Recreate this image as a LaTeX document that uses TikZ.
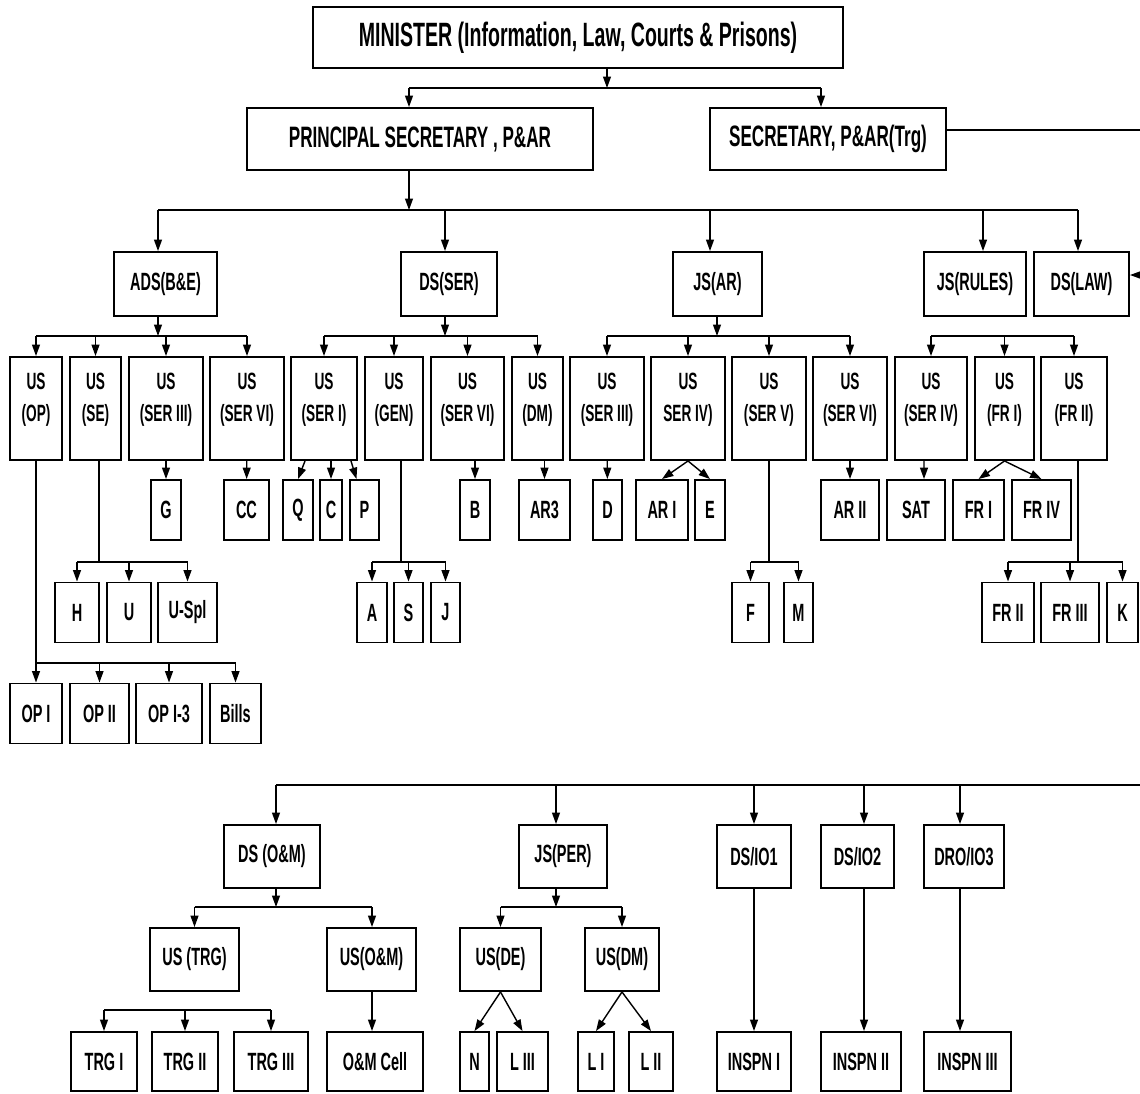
\documentclass[tikz,border=0pt]{standalone}
\usepackage{fontspec}
\setmainfont{Liberation Sans}[FakeStretch=0.58]
\usetikzlibrary{arrows.meta}
\newcommand{\us}[1]{US\\#1\\[-5pt]\mbox{}}

\begin{document}
\begin{tikzpicture}[x=0.02cm,y=-0.02cm,line width=0.8pt,>={Triangle[length=6.5pt,width=4.5pt]},
  wd/.style={minimum width=#1*0.02cm}]
\tikzstyle{box}=[draw,line width=1.1pt,inner sep=1pt,align=center,font=\bfseries\fontsize{14.2}{16}\selectfont]
\tikzstyle{headbox}=[box,minimum height=62*0.02cm,font=\bfseries\fontsize{16.8}{19}\selectfont]
\tikzstyle{unitbox}=[box,minimum height=64*0.02cm]
\tikzstyle{usbox}=[box,minimum height=103*0.02cm,font=\bfseries\fontsize{13.4}{18}\selectfont]
\tikzstyle{leaf}=[box,minimum height=60*0.02cm]
\useasboundingbox (0,0) rectangle (1140,1093);

\node [box,wd=530,minimum height=61*0.02cm,font=\bfseries\fontsize{19.2}{22}\selectfont] (min) at (578,37.5) {MINISTER (Information, Law, Courts \& Prisons)};
\node [headbox,wd=346] (ps) at (420,139) {PRINCIPAL SECRETARY , P\&AR};
\node [headbox,wd=236] (sec) at (828,139) {SECRETARY, P\&AR(Trg)};

\node [unitbox,wd=103] (ads) at (165.5,284) {ADS(B\&E)};
\node [unitbox,wd=96] (dsser) at (449,284) {DS(SER)};
\node [unitbox,wd=89] (jsar) at (717.5,284) {JS(AR)};
\node [unitbox,wd=102] (jsrules) at (975,284) {JS(RULES)};
\node [unitbox,wd=95] (dslaw) at (1081.5,284) {DS(LAW)};

\node [usbox,wd=52] (usop) at (36,408.5) {\us{(OP)}};
\node [usbox,wd=51] (usse) at (95.5,408.5) {\us{(SE)}};
\node [usbox,wd=74] (ussiii) at (166,408.5) {\us{(SER III)}};
\node [usbox,wd=74] (ussvi) at (247,408.5) {\us{(SER VI)}};
\node [usbox,wd=66] (ussi) at (324,408.5) {\us{(SER I)}};
\node [usbox,wd=58] (usgen) at (394,408.5) {\us{(GEN)}};
\node [usbox,wd=73] (ussvib) at (467.5,408.5) {\us{(SER VI)}};
\node [usbox,wd=51] (usdm) at (537.5,408.5) {\us{(DM)}};
\node [usbox,wd=74] (ussiiib) at (607,408.5) {\us{(SER III)}};
\node [usbox,wd=74] (ussiv) at (688,408.5) {\us{SER IV)}};
\node [usbox,wd=74] (ussv) at (769,408.5) {\us{(SER V)}};
\node [usbox,wd=74] (ussvic) at (850,408.5) {\us{(SER VI)}};
\node [usbox,wd=72] (ussivb) at (931,408.5) {\us{(SER IV)}};
\node [usbox,wd=59] (usfri) at (1004.5,408.5) {\us{(FR I)}};
\node [usbox,wd=66] (usfrii) at (1074,408.5) {\us{(FR II)}};

\node [leaf,wd=30] (g) at (166,510) {G};
\node [leaf,wd=45] (cc) at (246.5,510) {CC};
\node [leaf,wd=30] (q) at (298,510) {Q};
\node [leaf,wd=22] (c) at (331,510) {C};
\node [leaf,wd=29] (p) at (364.5,510) {P};
\node [leaf,wd=30] (b) at (475,510) {B};
\node [leaf,wd=51] (ar3) at (544.5,510) {AR3};
\node [leaf,wd=29] (d) at (607.5,510) {D};
\node [leaf,wd=52] (ari) at (662,510) {AR I};
\node [leaf,wd=30] (e) at (710,510) {E};
\node [leaf,wd=58] (arii) at (850,510) {AR II};
\node [leaf,wd=58] (sat) at (916,510) {SAT};
\node [leaf,wd=51] (fri) at (978.5,510) {FR I};
\node [leaf,wd=59] (friv) at (1041.5,510) {FR IV};

\node [leaf,wd=44] (h) at (77,612.5) {H};
\node [leaf,wd=44] (u) at (129,612.5) {U};
\node [leaf,wd=59] (uspl) at (187.5,612.5) {U-Spl};
\node [leaf,wd=30] (a) at (372,612.5) {A};
\node [leaf,wd=29] (s) at (408.5,612.5) {S};
\node [leaf,wd=29] (j) at (445.5,612.5) {J};
\node [leaf,wd=37] (f) at (750.5,612.5) {F};
\node [leaf,wd=29] (m) at (798.5,612.5) {M};
\node [leaf,wd=52] (frii) at (1008,612.5) {FR II};
\node [leaf,wd=58] (friii) at (1070,612.5) {FR III};
\node [leaf,wd=31] (k) at (1122.5,612.5) {K};

\node [leaf,wd=52] (opi) at (36,713.5) {OP I};
\node [leaf,wd=59] (opii) at (99.5,713.5) {OP II};
\node [leaf,wd=66] (opi3) at (169,713.5) {OP I-3};
\node [leaf,wd=51] (bills) at (235.5,713.5) {Bills};

\node [box,wd=96,minimum height=63*0.02cm] (dsom) at (272,856.5) {DS (O\&M)};
\node [box,wd=88,minimum height=63*0.02cm] (jsper) at (563,856.5) {JS(PER)};
\node [box,wd=74,minimum height=63*0.02cm] (dsio1) at (754,856.5) {DS/IO1};
\node [box,wd=73,minimum height=63*0.02cm] (dsio2) at (857.5,856.5) {DS/IO2};
\node [box,wd=80,minimum height=63*0.02cm] (droio3) at (964,856.5) {DRO/IO3};

\node [box,wd=89,minimum height=63*0.02cm] (ustrg) at (194.5,959.5) {US (TRG)};
\node [box,wd=89,minimum height=63*0.02cm] (usom) at (371.5,959.5) {US(O\&M)};
\node [box,wd=81,minimum height=63*0.02cm] (usde) at (500.5,959.5) {US(DE)};
\node [box,wd=74,minimum height=63*0.02cm] (usdmb) at (622,959.5) {US(DM)};

\node [leaf,wd=66,minimum height=59*0.02cm] (trgi) at (104,1061.5) {TRG I};
\node [leaf,wd=66,minimum height=59*0.02cm] (trgii) at (185,1061.5) {TRG II};
\node [leaf,wd=74,minimum height=59*0.02cm] (trgiii) at (271,1061.5) {TRG III};
\node [leaf,wd=96,minimum height=59*0.02cm] (omcell) at (375,1061.5) {O\&M Cell};
\node [leaf,wd=29,minimum height=59*0.02cm] (n) at (474.5,1061.5) {N};
\node [leaf,wd=51,minimum height=59*0.02cm] (liii) at (522.5,1061.5) {L III};
\node [leaf,wd=36,minimum height=59*0.02cm] (li) at (596,1061.5) {L I};
\node [leaf,wd=44,minimum height=59*0.02cm] (lii) at (651,1061.5) {L II};
\node [leaf,wd=74,minimum height=59*0.02cm] (inspni) at (754,1061.5) {INSPN I};
\node [leaf,wd=80,minimum height=59*0.02cm] (inspnii) at (861,1061.5) {INSPN II};
\node [leaf,wd=87,minimum height=59*0.02cm] (inspniii) at (967.5,1061.5) {INSPN III};

\coordinate (b0) at (607,88);
\coordinate (b1) at (409,88);
\coordinate (b2) at (821,88);
\draw[->] (b0 |- min.south) -- (b0);
\draw (b1) -- (b2);
\draw[->] (b1) -- (b1 |- ps.north);
\draw[->] (b2) -- (b2 |- sec.north);

\coordinate (m0) at (409,210);
\coordinate (m1) at (158,210);
\coordinate (m2) at (445,210);
\coordinate (m3) at (710,210);
\coordinate (m4) at (983,210);
\coordinate (m5) at (1078,210);
\draw[->] (m0 |- ps.south) -- (m0);
\draw (m1) -- (m5);
\foreach \c/\n in {m1/ads,m2/dsser,m3/jsar,m4/jsrules,m5/dslaw}
  \draw[->] (\c) -- (\c |- \n.north);

\coordinate (secout) at (1140,130);
\coordinate (lawin) at (1140,275);
\draw (sec.east |- secout) -- (secout);
\draw[->] (lawin) -- (lawin -| dslaw.east);

\coordinate (a0) at (158,336);
\coordinate (s0) at (445,336);
\coordinate (j0) at (717,336);
\coordinate (r0) at (1000,336);
\draw[->] (a0 |- ads.south) -- (a0);
\draw[->] (s0 |- dsser.south) -- (s0);
\draw[->] (j0 |- jsar.south) -- (j0);
\draw (a0 -| usop) -- (a0 -| ussvi);
\draw (s0 -| ussi) -- (s0 -| usdm);
\draw (j0 -| ussiiib) -- (j0 -| ussvic);
\draw (r0 -| ussivb) -- (r0 -| usfrii);
\foreach \n in {usop,usse,ussiii,ussvi}
  \draw[->] (a0 -| \n) -- (\n.north);
\foreach \n in {ussi,usgen,ussvib,usdm}
  \draw[->] (s0 -| \n) -- (\n.north);
\foreach \n in {ussiiib,ussiv,ussv,ussvic}
  \draw[->] (j0 -| \n) -- (\n.north);
\foreach \n in {ussivb,usfri,usfrii}
  \draw[->] (r0 -| \n) -- (\n.north);

\draw[->] (ussiii) -- (g);
\draw[->] (ussvi) -- (cc);
\draw[->] ([xshift=-0.38cm]ussi.south) -- (q.north);
\draw[->] (c |- ussi.south) -- (c.north);
\draw[->] ([xshift=0.54cm]ussi.south) -- ([xshift=-0.16cm]p.north);
\draw[->] (b |- ussvib.south) -- (b.north);
\draw[->] (ar3 |- usdm.south) -- (ar3.north);
\draw[->] (ussiiib) -- (d);
\draw[->] (ussiv.south) -- (ari.north);
\draw[->] (ussiv.south) -- (e.north);
\draw[->] (ussvic) -- (arii);
\draw[->] ([xshift=-0.14cm]ussivb.south) -- ([xshift=0.16cm]sat.north);
\draw[->] (usfri.south) -- (fri.north);
\draw[->] (usfri.south) -- (friv.north);

\coordinate (e0) at (99,562);
\coordinate (g0) at (401,562);
\coordinate (v0) at (769,562);
\coordinate (f0) at (1078,562);
\draw (usse.south -| e0) -- (e0);
\draw (usgen.south -| g0) -- (g0);
\draw (ussv.south -| v0) -- (v0);
\draw (usfrii.south -| f0) -- (f0);
\draw (e0 -| h) -- (e0 -| uspl);
\draw (g0 -| a) -- (g0 -| j);
\draw (v0 -| f) -- (v0 -| m);
\draw (f0 -| frii) -- (f0 -| k);
\foreach \n in {h,u,uspl}
  \draw[->] (e0 -| \n) -- (\n.north);
\foreach \n in {a,s,j}
  \draw[->] (g0 -| \n) -- (\n.north);
\foreach \n in {f,m}
  \draw[->] (v0 -| \n) -- (\n.north);
\foreach \n in {frii,friii,k}
  \draw[->] (f0 -| \n) -- (\n.north);

\coordinate (o0) at (36,663);
\draw (usop.south) -- (o0);
\draw (o0) -- (o0 -| bills);
\foreach \n in {opi,opii,opi3,bills}
  \draw[->] (o0 -| \n) -- (\n.north);

\coordinate (t0) at (1140,785);
\coordinate (t1) at (276,785);
\coordinate (t2) at (556,785);
\coordinate (t3) at (754,785);
\coordinate (t4) at (864,785);
\coordinate (t5) at (960,785);
\draw (t1) -- (t0);
\foreach \c/\n in {t1/dsom,t2/jsper,t3/dsio1,t4/dsio2,t5/droio3}
  \draw[->] (\c) -- (\c |- \n.north);
\draw[->] (t3 |- dsio1.south) -- (t3 |- inspni.north);
\draw[->] (t4 |- dsio2.south) -- (t4 |- inspnii.north);
\draw[->] (t5 |- droio3.south) -- (t5 |- inspniii.north);

\coordinate (o1) at (276,907);
\coordinate (p1) at (556,907);
\coordinate (om) at (372,907);
\draw[->] (o1 |- dsom.south) -- (o1);
\draw[->] (p1 |- jsper.south) -- (p1);
\draw (o1 -| ustrg) -- (om);
\draw (p1 -| usde) -- (p1 -| usdmb);
\draw[->] (o1 -| ustrg) -- (ustrg.north);
\draw[->] (om) -- (om |- usom.north);
\foreach \n in {usde,usdmb}
  \draw[->] (p1 -| \n) -- (\n.north);

\coordinate (tr) at (190,1010);
\draw (tr -| trgi) -- (tr -| trgiii);
\foreach \n in {trgi,trgii,trgiii}
  \draw[->] (tr -| \n) -- (\n.north);
\draw[->] (om |- usom.south) -- (om |- omcell.north);
\draw[->] (usde.south) -- (n.north);
\draw[->] (usde.south) -- (liii.north);
\draw[->] (usdmb.south) -- (li.north);
\draw[->] (usdmb.south) -- (lii.north);
\end{tikzpicture}
\end{document}
